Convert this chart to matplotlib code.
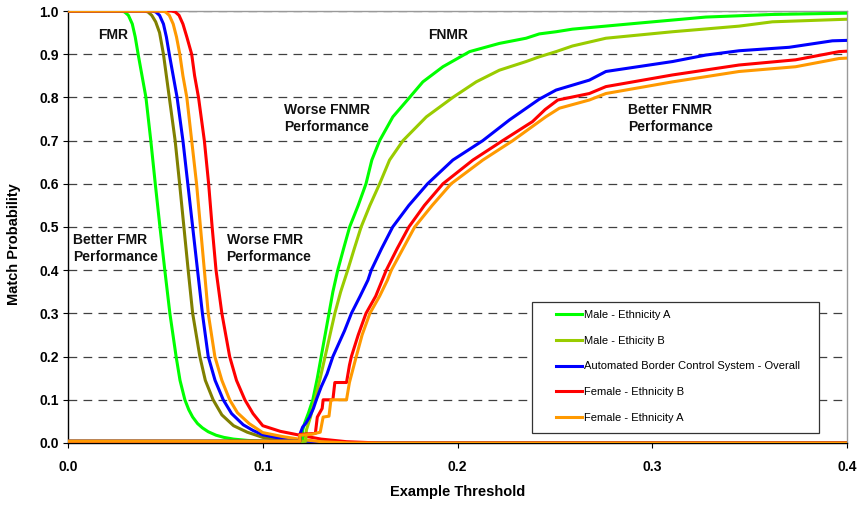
import matplotlib
matplotlib.use('Agg')
import matplotlib.pyplot as plt
from matplotlib.patches import Rectangle

plt.rcParams['font.family'] = ['Liberation Sans', 'DejaVu Sans']

# Series names and colours
labels = ['Male - Ethnicity A', 'Male - Ethicity B',
          'Automated Border Control System - Overall',
          'Female - Ethnicity B', 'Female - Ethnicity A']
fnmr_colors = ['#00ff00', '#99cc00', '#0000ff', '#ff0000', '#ff9900']
fmr_colors = ['#00ff00', '#808000', '#0000ff', '#ff0000', '#ff9900']

# FMR curves (threshold, probability)
fmr_green_x = [0, 0.027, 0.029, 0.031, 0.033, 0.0345, 0.036, 0.038, 0.040,
               0.0425, 0.0448, 0.0472, 0.0497, 0.0523, 0.0555, 0.0575,
               0.060, 0.062, 0.064, 0.0665, 0.069, 0.072, 0.076, 0.080,
               0.085, 0.092, 0.100, 0.115, 0.130, 0.4]
fmr_green_y = [1.0, 1.0, 0.998, 0.99, 0.97, 0.94, 0.9, 0.85, 0.8,
               0.7, 0.6, 0.5, 0.4, 0.3, 0.2, 0.145,
               0.1, 0.077, 0.06, 0.045, 0.035, 0.026, 0.018, 0.013,
               0.009, 0.006, 0.004, 0.0015, 0.0, 0.0]

fmr_olive_x = [0, 0.039, 0.041, 0.043, 0.045, 0.047, 0.049, 0.0505, 0.052,
               0.055, 0.0573, 0.0595, 0.0617, 0.064, 0.0677, 0.0705, 0.0745,
               0.079, 0.085, 0.092, 0.100, 0.110, 0.120, 0.135, 0.4]
fmr_olive_y = [1.0, 1.0, 0.998, 0.99, 0.975, 0.95, 0.9, 0.85, 0.8,
               0.7, 0.6, 0.5, 0.4, 0.3, 0.2, 0.145, 0.1,
               0.065, 0.04, 0.025, 0.013, 0.006, 0.002, 0.0, 0.0]

fmr_blue_x = [0, 0.043, 0.045, 0.047, 0.049, 0.0505, 0.052, 0.054, 0.056,
              0.059, 0.0615, 0.064, 0.0665, 0.069, 0.072, 0.0755, 0.0797,
              0.084, 0.090, 0.095, 0.100, 0.110, 0.120, 0.135, 0.145, 0.4]
fmr_blue_y = [1.0, 1.0, 0.998, 0.99, 0.97, 0.94, 0.9, 0.85, 0.8,
              0.7, 0.6, 0.5, 0.4, 0.3, 0.2, 0.145, 0.1,
              0.068, 0.042, 0.029, 0.019, 0.01, 0.005, 0.001, 0.0, 0.0]

fmr_red_x = [0, 0.053, 0.055, 0.057, 0.059, 0.061, 0.0635, 0.065, 0.067,
             0.070, 0.0722, 0.074, 0.076, 0.079, 0.083, 0.0865, 0.0908,
             0.095, 0.100, 0.109, 0.119, 0.130, 0.143, 0.160, 0.4]
fmr_red_y = [1.0, 1.0, 0.998, 0.99, 0.97, 0.94, 0.9, 0.85, 0.8,
             0.7, 0.6, 0.5, 0.4, 0.3, 0.2, 0.145, 0.1,
             0.068, 0.04, 0.027, 0.018, 0.009, 0.003, 0.0, 0.0]

fmr_orange_x = [0, 0.048, 0.050, 0.052, 0.054, 0.0557, 0.0574, 0.059, 0.061,
                0.0635, 0.066, 0.068, 0.070, 0.072, 0.0754, 0.079, 0.083,
                0.087, 0.093, 0.100, 0.110, 0.120, 0.130, 0.145, 0.4]
fmr_orange_y = [1.0, 1.0, 0.998, 0.99, 0.97, 0.94, 0.9, 0.85, 0.8,
                0.7, 0.6, 0.5, 0.4, 0.3, 0.2, 0.145, 0.1,
                0.07, 0.045, 0.024, 0.015, 0.008, 0.003, 0.0, 0.0]

# FNMR curves (threshold, probability)
fnmr_green_x = [0, 0.1205, 0.1205, 0.1215, 0.1235, 0.1257, 0.128, 0.130,
                0.132, 0.134, 0.136, 0.1385, 0.1415, 0.1446, 0.149, 0.153,
                0.156, 0.160, 0.1668, 0.1754, 0.1822, 0.1925, 0.2062, 0.2215,
                0.2352, 0.242, 0.2506, 0.259, 0.293, 0.3275, 0.3617, 0.4]
fnmr_green_y = [0.004, 0.004, 0.03, 0.046, 0.07, 0.1, 0.15, 0.2,
                0.25, 0.3, 0.35, 0.4, 0.45, 0.5, 0.55, 0.6,
                0.655, 0.70, 0.755, 0.80, 0.836, 0.871, 0.906, 0.925,
                0.937, 0.947, 0.952, 0.958, 0.972, 0.986, 0.992, 0.995]

fnmr_ygreen_x = [0, 0.122, 0.1224, 0.1245, 0.1267, 0.1295, 0.132, 0.1345,
                 0.137, 0.140, 0.1436, 0.147, 0.1505, 0.155, 0.160, 0.1651,
                 0.172, 0.184, 0.1976, 0.2096, 0.2215, 0.2352, 0.242, 0.2506,
                 0.259, 0.2762, 0.3104, 0.3446, 0.3617, 0.4]
fnmr_ygreen_y = [0.004, 0.004, 0.03, 0.06, 0.1, 0.15, 0.2, 0.25,
                 0.3, 0.35, 0.4, 0.45, 0.5, 0.55, 0.6, 0.655,
                 0.70, 0.755, 0.80, 0.836, 0.863, 0.883, 0.894, 0.906,
                 0.919, 0.937, 0.952, 0.965, 0.975, 0.981]

fnmr_blue_x = [0, 0.119, 0.1193, 0.1205, 0.122, 0.124, 0.126, 0.1275,
               0.130, 0.133, 0.136, 0.139, 0.142, 0.1455, 0.150, 0.154,
               0.1557, 0.161, 0.1667, 0.175, 0.1846, 0.1976, 0.213, 0.2267,
               0.242, 0.2506, 0.2677, 0.2762, 0.3104, 0.3275, 0.3446, 0.3703,
               0.3925, 0.4]
fnmr_blue_y = [0.004, 0.004, 0.023, 0.037, 0.045, 0.06, 0.08, 0.1,
               0.13, 0.16, 0.2, 0.23, 0.26, 0.3, 0.34, 0.377,
               0.4, 0.45, 0.5, 0.55, 0.6, 0.655, 0.70, 0.748,
               0.796, 0.817, 0.840, 0.86, 0.883, 0.898, 0.908, 0.916,
               0.931, 0.932]

fnmr_red_x = [0, 0.119, 0.119, 0.127, 0.128, 0.1305, 0.131, 0.136,
              0.137, 0.143, 0.1445, 0.1455, 0.149, 0.153, 0.158, 0.1634,
              0.169, 0.175, 0.183, 0.1925, 0.2079, 0.2232, 0.2385, 0.245,
              0.2515, 0.2677, 0.2762, 0.3104, 0.3446, 0.3736, 0.3959, 0.4]
fnmr_red_y = [0.004, 0.004, 0.02, 0.022, 0.06, 0.08, 0.1, 0.1,
              0.14, 0.14, 0.18, 0.2, 0.25, 0.3, 0.34, 0.4,
              0.45, 0.5, 0.55, 0.6, 0.655, 0.70, 0.744, 0.772,
              0.794, 0.809, 0.825, 0.852, 0.875, 0.887, 0.906, 0.907]

fnmr_orange_x = [0, 0.119, 0.119, 0.125, 0.1295, 0.131, 0.134, 0.135,
                 0.143, 0.1445, 0.148, 0.151, 0.155, 0.160, 0.164, 0.166,
                 0.172, 0.178, 0.187, 0.1967, 0.213, 0.2284, 0.2453, 0.2523,
                 0.2677, 0.2762, 0.3104, 0.3446, 0.3736, 0.3959, 0.4]
fnmr_orange_y = [0.004, 0.004, 0.018, 0.02, 0.025, 0.06, 0.062, 0.1,
                 0.1, 0.14, 0.2, 0.25, 0.3, 0.34, 0.377, 0.4,
                 0.45, 0.5, 0.55, 0.6, 0.655, 0.70, 0.755, 0.775,
                 0.794, 0.809, 0.836, 0.86, 0.871, 0.89, 0.891]

fmr_x = [fmr_green_x, fmr_olive_x, fmr_blue_x, fmr_red_x, fmr_orange_x]
fmr_y = [fmr_green_y, fmr_olive_y, fmr_blue_y, fmr_red_y, fmr_orange_y]
fnmr_x = [fnmr_green_x, fnmr_ygreen_x, fnmr_blue_x, fnmr_red_x, fnmr_orange_x]
fnmr_y = [fnmr_green_y, fnmr_ygreen_y, fnmr_blue_y, fnmr_red_y, fnmr_orange_y]

x_ticks = [0.0, 0.1, 0.2, 0.3, 0.4]
y_ticks = [0.0, 0.1, 0.2, 0.3, 0.4, 0.5, 0.6, 0.7, 0.8, 0.9, 1.0]

fig = plt.figure(figsize=(8.6, 5.05), dpi=100)
ax = fig.add_axes([0.0791, 0.1228, 0.9058, 0.8554])

lw = 2.2
handles = []
for i in range(5):
    ax.plot(fmr_x[i], fmr_y[i], color=fmr_colors[i], lw=lw,
            solid_joinstyle='round', zorder=3)
for i in range(5):
    h, = ax.plot(fnmr_x[i], fnmr_y[i], color=fnmr_colors[i], lw=lw,
                 solid_joinstyle='round', zorder=3, label=labels[i])
    handles.append(h)

ax.set_xlim(0, 0.4)
ax.set_ylim(0, 1.0)
ax.set_xticks(x_ticks)
ax.set_yticks(y_ticks)
ax.set_xticklabels([f'{v:.1f}' for v in x_ticks], fontsize=10,
                   fontweight='bold')
ax.set_yticklabels([f'{v:.1f}' for v in y_ticks], fontsize=10,
                   fontweight='bold')
ax.tick_params(axis='x', direction='out', length=3.5, width=0.8, pad=9)
ax.tick_params(axis='y', direction='out', length=3.5, width=0.8, pad=3)

ax.yaxis.grid(True, color='#404040', linestyle=(0, (7, 5)), lw=0.9)
ax.set_axisbelow(True)

for side in ['left', 'bottom']:
    ax.spines[side].set_color('black')
    ax.spines[side].set_linewidth(1.0)
for side in ['top', 'right']:
    ax.spines[side].set_color('#999999')
    ax.spines[side].set_linewidth(1.0)

ax.set_xlabel('Example Threshold', fontsize=10.5, fontweight='bold')
ax.set_ylabel('Match Probability', fontsize=10.5, fontweight='bold')
ax.xaxis.set_label_coords(0.5, -0.098)
ax.yaxis.set_label_coords(-0.061, 0.46)

# Annotations
txt = dict(fontsize=10, fontweight='bold', color='#111111')
ax.text(0.0231, 0.944, 'FMR', ha='center', va='center', **txt)
ax.text(0.0027, 0.451, 'Better FMR\nPerformance', ha='left', va='center',
        linespacing=1.25, **txt)
ax.text(0.0814, 0.451, 'Worse FMR\nPerformance', ha='left', va='center',
        linespacing=1.25, **txt)
ax.text(0.1108, 0.752, 'Worse FNMR\nPerformance', ha='left', va='center',
        linespacing=1.25, **txt)
ax.text(0.1954, 0.944, 'FNMR', ha='center', va='center', **txt)
ax.text(0.2877, 0.751, 'Better FNMR\nPerformance', ha='left', va='center',
        linespacing=1.25, **txt)

# Legend with a hand-drawn box
ax.add_patch(Rectangle((0.5956, 0.023), 0.3684, 0.303,
                       transform=ax.transAxes, fill=True, facecolor='white',
                       edgecolor='#333333', lw=0.9, zorder=4))
leg = ax.legend(handles=handles, loc='upper left',
                bbox_to_anchor=(0.6264, 0.307), frameon=False,
                fontsize=8, handlelength=2.3, handletextpad=0.2,
                labelspacing=1.4, borderaxespad=0, borderpad=0)
leg.set_zorder(5)

fig.savefig('out.png', dpi=100)
